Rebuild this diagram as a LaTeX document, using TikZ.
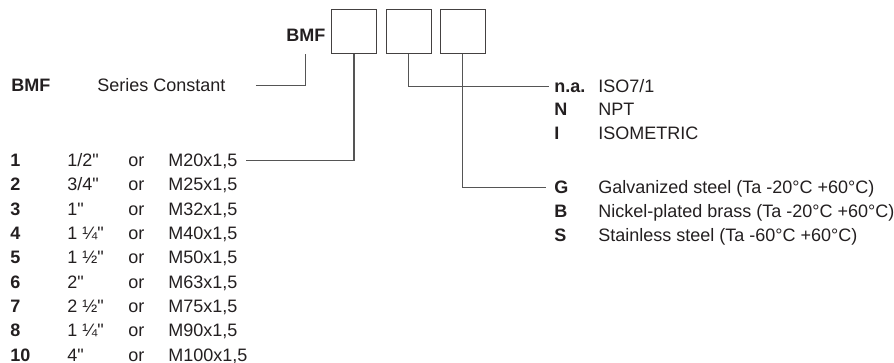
\documentclass[tikz,border=0pt]{standalone}
\usepackage{fontspec}
\setmainfont{Liberation Sans}[Ligatures=TeXOff]
\usetikzlibrary{positioning}

\definecolor{inkdark}{HTML}{231F20}
\definecolor{leadgray}{HTML}{555555}

\begin{document}
\begin{tikzpicture}[
  x=0.5pt, y=-0.5pt,
  every node/.style={font=\fontsize{9pt}{11pt}\selectfont, text=inkdark},
  txt/.style={anchor=base west, inner sep=0pt, text height=6.4pt, text depth=0pt},
  code/.style={txt, font=\fontsize{9pt}{11pt}\selectfont\bfseries},
  slot/.style={draw=inkdark!85, line width=0.5pt, minimum width=22.5pt,
    minimum height=22pt, inner sep=0pt},
  lead/.style={draw=leadgray, line width=0.55pt}
]
\useasboundingbox (0,0) rectangle (894,363);

% order code head
\node[code] (head) at (286,41.7) {BMF};
\node[slot] (box1) at (354,32) {};
\node[slot] (box2) at (408.5,32) {};
\node[slot] (box3) at (462.5,32) {};

% series
\node[code] (series code) at (11,91.7) {BMF};
\node[txt] (series) at (97,91.7) {Series Constant};

% sizes
\foreach \code/\size/\metric [count=\i] in {1/{1/2"}/{M20x1,5}, 2/{3/4"}/{M25x1,5},
    3/{1"}/{M32x1,5}, 4/{1 ¼"}/{M40x1,5}, 5/{1 ½"}/{M50x1,5}, 6/{2"}/{M63x1,5},
    7/{2 ½"}/{M75x1,5}, 8/{1 ¼"}/{M90x1,5}, 10/{4"}/{M100x1,5}}{
  \pgfmathsetmacro{\yy}{166.6+24.3*(\i-1)}
  \node[code] (code\i) at (10,\yy) {\code};
  \node[txt] (size\i) at (67,\yy) {\size};
  \node[txt] (or\i) at (128,\yy) {or};
  \node[txt] (metric\i) at (168,\yy) {\metric};
}

% threads and materials
\foreach \name/\code/\desc/\yy in {na/n.a./{ISO7/1}/92.7, rN/N/NPT/116,
    rI/I/ISOMETRIC/139.5, rG/G/{Galvanized steel (Ta -20°C +60°C)}/194,
    rB/B/{Nickel-plated brass (Ta -20°C +60°C)}/218,
    rS/S/{Stainless steel (Ta -60°C +60°C)}/242}{
  \node[code] (\name) at (554,\yy) {\code};
  \node[txt] (\name text) at (598,\yy) {\desc};
}

\draw[lead] ([xshift=15pt]series.east) -| (head |- box1.south);
\draw[lead] (box1.south) |- ([xshift=4pt]metric1.east);
\draw[lead] (box2.south) |- ([xshift=-2.5pt]na.west);
\draw[lead] (box3.south) |- ([xshift=-4pt]rG.west);
\end{tikzpicture}
\end{document}
